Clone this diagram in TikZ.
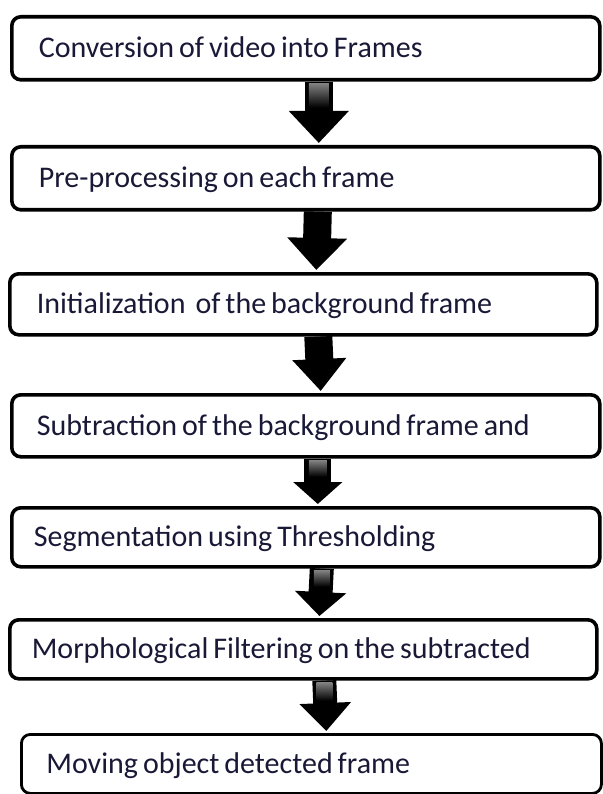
\documentclass[tikz,border=0pt]{standalone}
\usepackage{fontspec}
\setmainfont{Carlito}
\usetikzlibrary{arrows.meta,calc}
\definecolor{txt}{RGB}{25,25,55}
\newcommand\boxfnt{\fontsize{30}{33}\selectfont}
\newcommand\boxsp{\spaceskip=5pt plus 1pt minus 0.5pt\relax\xspaceskip=\spaceskip}
\begin{document}
\begin{tikzpicture}[x=1pt,y=-1pt,
  stepbox/.style={draw=black, line width=3.6pt, rounded corners=9pt, fill=white,
    anchor=north west, inner xsep=0pt, inner ysep=0pt, align=flush left,
    text height=19pt, text depth=0pt,
    font=\boxfnt, text=txt, execute at begin node=\boxsp},
  bigarrow/.style={draw=black, line width=28pt,
    -{Triangle[width=58pt, length=32pt]}, shorten >=2pt},
  gloss/.style={top color=black!50, bottom color=black}
]
\useasboundingbox (0,0) rectangle (602,794);
\fill[white] (0,0) rectangle (602,794);
% boxes
\node[stepbox, minimum width=588pt, minimum height=63pt, text width=588pt] (b1) at (10,15)
  {\hspace*{27pt}Conversion of video into Frames};
\node[stepbox, minimum width=588pt, minimum height=63pt, text width=588pt] (b2) at (10,145)
  {\hspace*{27pt}Pre-processing on each frame};
\node[stepbox, minimum width=587pt, minimum height=61pt, text width=587pt] (b3) at (8,272)
  {\hspace*{27pt}Initialization\ \ of the background frame};
\node[stepbox, minimum width=588pt, minimum height=62pt, text width=588pt] (b4) at (10,393)
  {\hspace*{25pt}Subtraction of the background frame and};
\node[stepbox, minimum width=588pt, minimum height=59pt, text width=588pt] (b5) at (10,506)
  {\hspace*{22pt}Segmentation using Thresholding};
\node[stepbox, minimum width=587pt, minimum height=59pt, text width=587pt] (b6) at (8,618)
  {\hspace*{22pt}Morphological Filtering on the subtracted};
\node[stepbox, line width=2.8pt, minimum width=580pt, minimum height=59pt, text width=580pt] (b7) at (20,733)
  {\hspace*{25pt}Moving object detected frame};
% arrows
\draw[bigarrow] ([xshift=13pt]b1.south) -- ([xshift=13pt]b2.north);
\shade[gloss] ([xshift=3pt,yshift=-2pt]b1.south) rectangle ([xshift=23pt,yshift=-26pt]b1.south);
\draw[bigarrow] ([xshift=12pt]b2.south) -- ([xshift=13pt]b3.north);
\draw[bigarrow, -{Triangle[width=52pt, length=32pt]}] ([xshift=15pt]b3.south) -- ([xshift=15pt]b4.north);
\draw[bigarrow, line width=27pt, -{Triangle[width=48pt, length=22pt]}] ([xshift=12pt]b4.south) -- ([xshift=12pt]b5.north);
\shade[gloss] ([xshift=3pt,yshift=-2pt]b4.south) rectangle ([xshift=21pt,yshift=-18pt]b4.south);
\draw[bigarrow, line width=24pt, -{Triangle[width=50pt, length=24pt]}] ([xshift=16pt]b5.south) -- ([xshift=16pt]b6.north);
\shade[gloss] ([xshift=8pt,yshift=-2pt]b5.south) rectangle ([xshift=24pt,yshift=-18pt]b5.south);
\draw[bigarrow, line width=24pt, -{Triangle[width=50pt, length=28pt]}] ([xshift=21pt]b6.south) -- ([xshift=15pt]b7.north);
\shade[gloss] ([xshift=13pt,yshift=-2pt]b6.south) rectangle ([xshift=29pt,yshift=-20pt]b6.south);
\end{tikzpicture}
\end{document}
